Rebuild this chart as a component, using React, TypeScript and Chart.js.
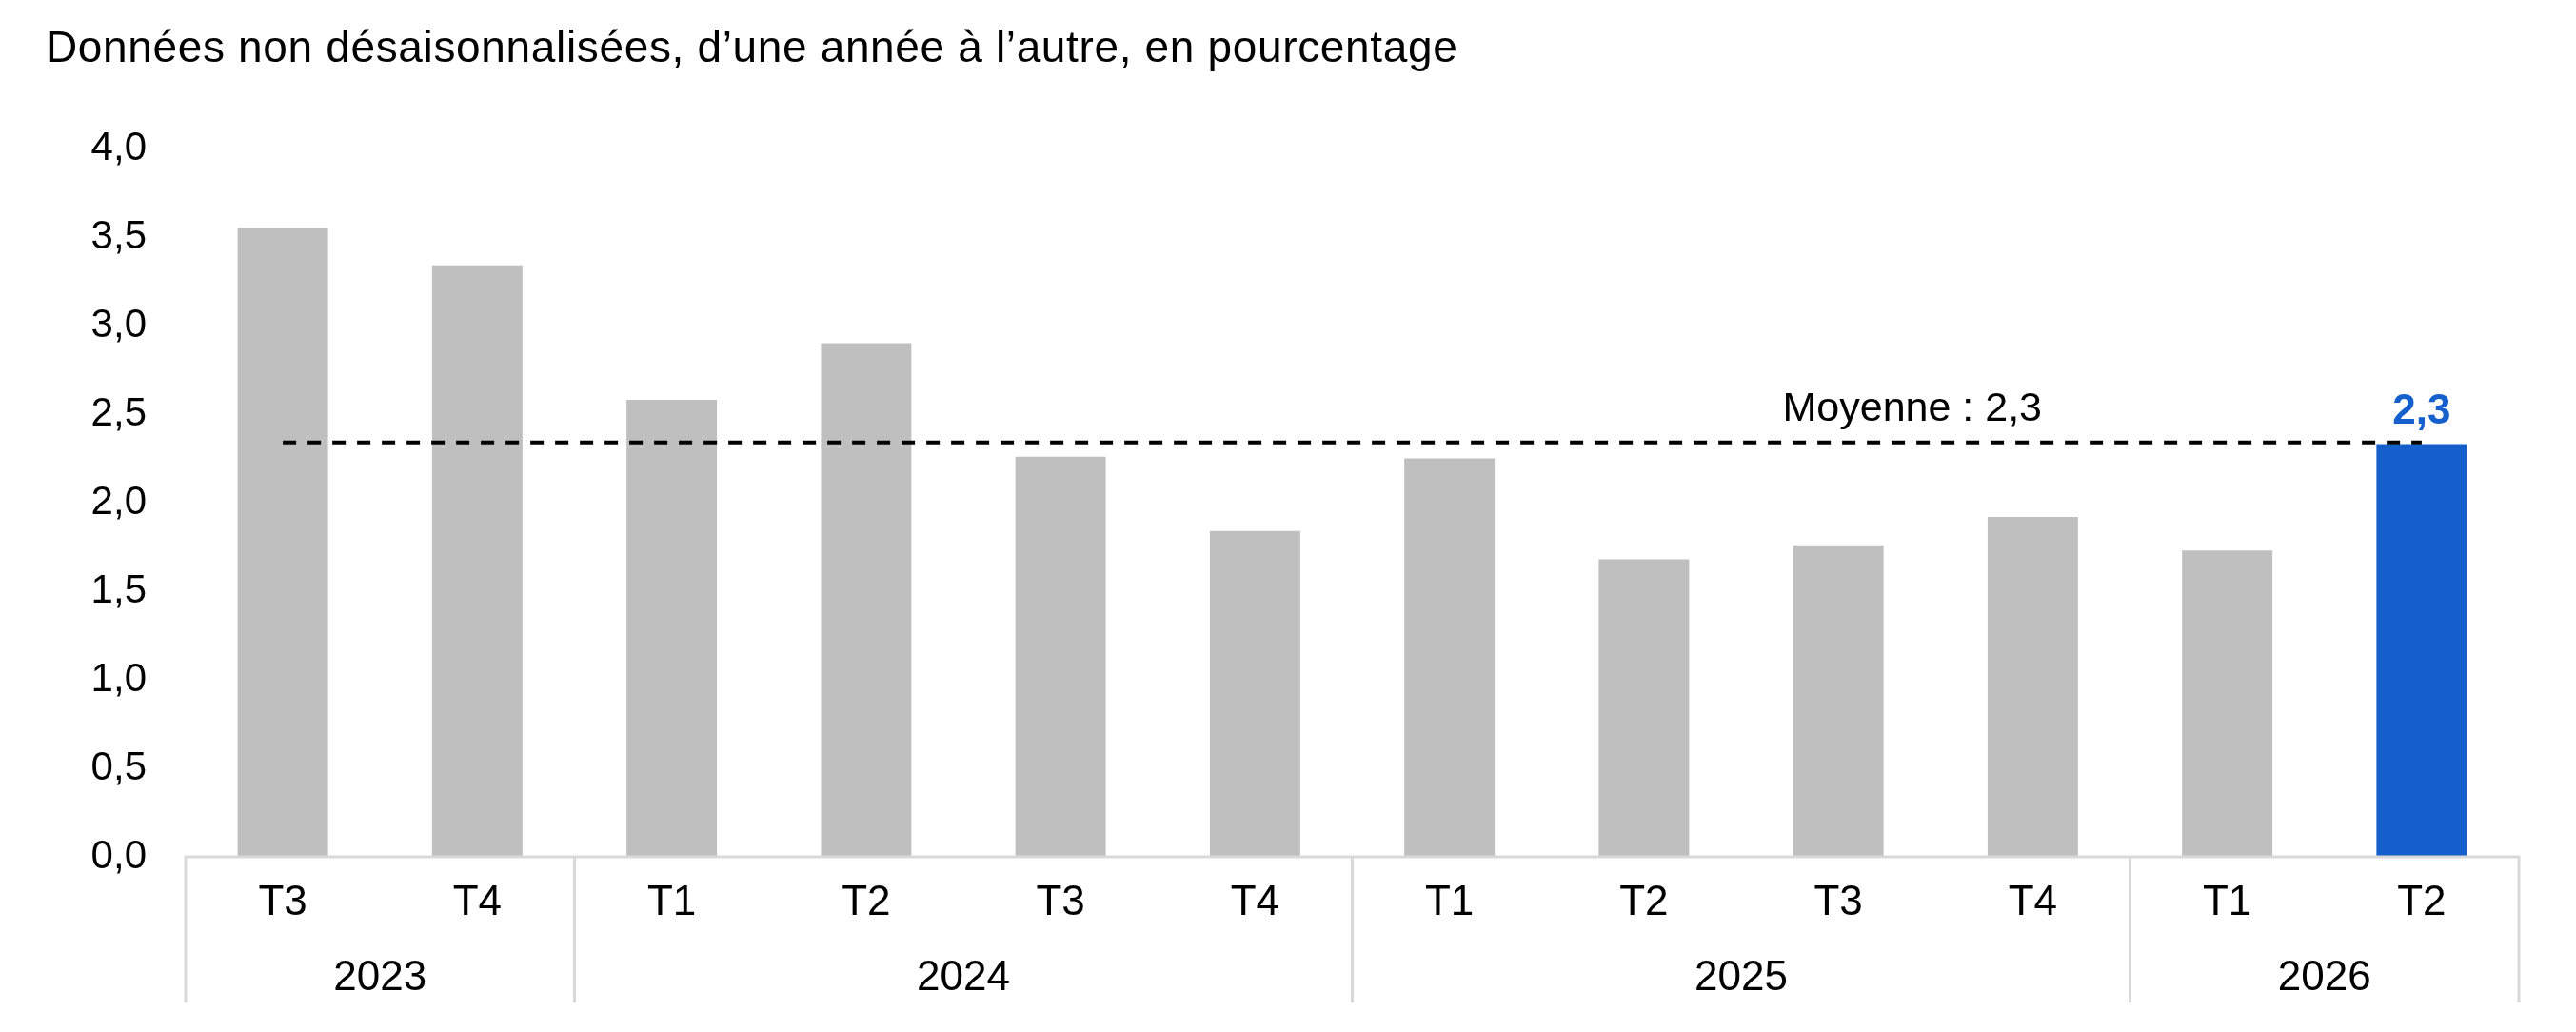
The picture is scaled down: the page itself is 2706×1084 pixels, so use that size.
import { useEffect, useRef } from "react"
import { Chart, registerables } from "chart.js"

Chart.register(...registerables)

const quarters = ["T3", "T4", "T1", "T2", "T3", "T4", "T1", "T2", "T3", "T4", "T1", "T2"]
const years = ["2023", "2024", "2025", "2026"]
const quartersPerYear = [2, 4, 4, 2]
const growth = [3.55, 3.34, 2.58, 2.9, 2.26, 1.84, 2.25, 1.68, 1.76, 1.92, 1.73, 2.33]
const average = 2.34
const averageText = "Moyenne : 2,3"
const title = "Données non désaisonnalisées, d’une année à l’autre, en pourcentage"

const FONT = '"Liberation Sans", Arial, Helvetica, sans-serif'
const GRAY = "#bfbfbf"
const BLUE = "#1560cc"
const AXIS = "#d9d9d9"

// one unique key per bar, so the mean line can point at first / last category
const yearOfBar: string[] = []
quartersPerYear.forEach((n, i) => {
  for (let k = 0; k < n; k++) yearOfBar.push(years[i])
})
const labels = quarters.map((q, i) => q + " " + yearOfBar[i])
const highlight = growth.length - 1

const fmt = (v: number) => v.toFixed(1).replace(".", ",")

const groupedAxis = {
  id: "groupedAxis",
  afterDatasetsDraw(chart: any) {
    const { ctx, chartArea, scales } = chart
    const x = scales.x
    const y = scales.y
    const base = chartArea.bottom
    const half = (x.getPixelForValue(1) - x.getPixelForValue(0)) / 2
    const n = labels.length

    ctx.save()
    ctx.strokeStyle = AXIS
    ctx.lineWidth = 3
    ctx.beginPath()
    ctx.moveTo(x.getPixelForValue(0) - half, base)
    ctx.lineTo(x.getPixelForValue(n - 1) + half, base)
    let edge = 0
    const edges = [0]
    quartersPerYear.forEach((c) => {
      edge += c
      edges.push(edge)
    })
    edges.forEach((e) => {
      const px = x.getPixelForValue(e) - half
      ctx.moveTo(px, base - 1.5)
      ctx.lineTo(px, base + 153)
    })
    ctx.stroke()

    ctx.fillStyle = "#000"
    ctx.textAlign = "center"
    ctx.textBaseline = "middle"
    ctx.font = `44px ${FONT}`
    quarters.forEach((q, i) => {
      ctx.fillText(q, x.getPixelForValue(i), base + 49)
    })
    let first = 0
    years.forEach((yr, i) => {
      const last = first + quartersPerYear[i] - 1
      const cx = (x.getPixelForValue(first) + x.getPixelForValue(last)) / 2
      ctx.fillText(yr, cx, base + 128)
      first = last + 1
    })

    // mean label
    ctx.textBaseline = "alphabetic"
    ctx.font = `43px ${FONT}`
    ctx.fillText(averageText, x.getPixelForValue(8.38), y.getPixelForValue(average) - 23)

    // value of the highlighted bar
    const bar = chart.getDatasetMeta(0).data[highlight]
    ctx.fillStyle = BLUE
    ctx.font = `bold 44px ${FONT}`
    ctx.fillText(fmt(growth[highlight]), bar.x, bar.y - 22)
    ctx.restore()
  },
}

export default function App() {
  const chartRef = useRef<HTMLCanvasElement>(null)
  const chartInstance = useRef<Chart | null>(null)

  useEffect(() => {
    document.body.style.margin = "0"
    if (!chartRef.current) return
    if (chartInstance.current) chartInstance.current.destroy()
    const ctx = chartRef.current.getContext("2d")
    if (!ctx) return

    chartInstance.current = new Chart(ctx, {
      type: "bar",
      data: {
        labels,
        datasets: [
          {
            type: "bar",
            data: growth,
            backgroundColor: growth.map((_, i) => (i === highlight ? BLUE : GRAY)),
            categoryPercentage: 1,
            barPercentage: 0.465,
            order: 1,
          },
          {
            type: "line",
            data: [
              { x: labels[0], y: average },
              { x: labels[labels.length - 1], y: average },
            ] as any,
            borderColor: "#000",
            borderWidth: 4,
            borderDash: [14, 12],
            pointRadius: 0,
            fill: false,
            order: 0,
          },
        ],
      },
      options: {
        responsive: false,
        animation: false,
        devicePixelRatio: 1,
        layout: { padding: { top: 156, right: 60, left: 0, bottom: 0 } },
        scales: {
          x: {
            ticks: { display: false },
            grid: { display: false, drawTicks: false },
            border: { display: false },
            afterFit: (s: any) => {
              s.height = 184
            },
          },
          y: {
            min: 0,
            max: 4,
            ticks: {
              stepSize: 0.5,
              color: "#000",
              padding: 41,
              font: { family: FONT, size: 42 },
              callback: (v: any) => fmt(Number(v)),
            },
            grid: { display: false, drawTicks: false },
            border: { display: false },
            afterFit: (s: any) => {
              s.width = 195
            },
          },
        },
        plugins: {
          legend: { display: false },
          tooltip: { enabled: false },
        },
      },
      plugins: [groupedAxis],
    })

    return () => {
      if (chartInstance.current) {
        chartInstance.current.destroy()
        chartInstance.current = null
      }
    }
  }, [])

  return (
    <div style={{ position: "relative", width: 2706, height: 1084, background: "#fff" }}>
      <div
        style={{
          position: "absolute",
          left: 48,
          top: 26,
          fontFamily: FONT,
          fontSize: 46,
          lineHeight: "46px",
          color: "#000",
          whiteSpace: "nowrap",
          letterSpacing: 0.65,
        }}
      >
        {title}
      </div>
      <canvas ref={chartRef} width={2706} height={1084}></canvas>
    </div>
  )
}
